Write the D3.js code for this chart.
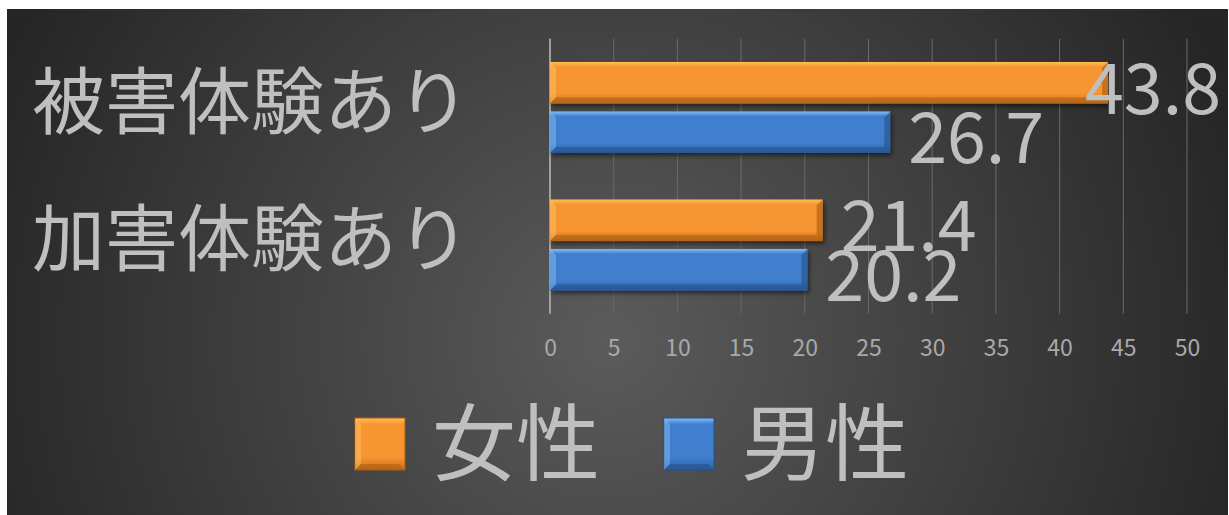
<!DOCTYPE html>
<html>
<head>
<meta charset="utf-8">
<script src="https://cdn.jsdelivr.net/npm/d3@7"></script>
<style>
  html, body { margin: 0; padding: 0; background: #fff; }
  svg { display: block; }
  text { font-family: "Noto Sans CJK JP", "Noto Sans", sans-serif; }
</style>
</head>
<body>
<div id="chart"></div>
<script>
// data
var categories = ["被害体験あり", "加害体験あり"];
var series = ["女性", "男性"];
var femaleValues = [43.8, 21.4];
var maleValues = [26.7, 20.2];
var tickValues = [0, 5, 10, 15, 20, 25, 30, 35, 40, 45, 50];

var W = 1229, H = 515;
var plot = {left: 550, right: 1187, top: 38.75, bottom: 313.75};

var svg = d3.select("#chart").append("svg")
    .attr("width", W)
    .attr("height", H);

var defs = svg.append("defs");

// background radial gradient
var bg = defs.append("radialGradient")
    .attr("id", "bg")
    .attr("gradientUnits", "userSpaceOnUse")
    .attr("cx", 610).attr("cy", 340).attr("r", 660);
bg.append("stop").attr("offset", "0%").attr("stop-color", "#5b5b5b");
bg.append("stop").attr("offset", "100%").attr("stop-color", "#262626");

// bar gradients
var colors = {
  "女性": {top: "#ffbf55", mid: "#f79530", bot: "#c8701c", light: "#ffc66a", dark: "#a95c12"},
  "男性": {top: "#86bdf3", mid: "#3f7fcd", bot: "#2f62a5", light: "#8cc0f4", dark: "#24508a"}
};
series.forEach(function(s, i) {
  var g = defs.append("linearGradient")
      .attr("id", "bar" + i)
      .attr("x1", 0).attr("y1", 0).attr("x2", 0).attr("y2", 1);
  g.append("stop").attr("offset", "0%").attr("stop-color", colors[s].top);
  g.append("stop").attr("offset", "12%").attr("stop-color", colors[s].mid);
  g.append("stop").attr("offset", "75%").attr("stop-color", colors[s].mid);
  g.append("stop").attr("offset", "100%").attr("stop-color", colors[s].bot);
});

var shadow = defs.append("filter").attr("id", "shadow")
    .attr("x", "-10%").attr("y", "-20%").attr("width", "130%").attr("height", "160%");
shadow.append("feDropShadow")
    .attr("dx", 2).attr("dy", 3).attr("stdDeviation", 2)
    .attr("flood-color", "#000").attr("flood-opacity", 0.5);

svg.append("rect")
    .attr("x", 7).attr("y", 9)
    .attr("width", W - 8).attr("height", H - 9)
    .attr("fill", "url(#bg)");

// scales
var x = d3.scaleLinear().domain([0, 50]).range([plot.left, plot.right]);
var y0 = d3.scaleBand().domain(categories)
    .range([plot.top, plot.bottom])
    .paddingInner(0.338).paddingOuter(0.169);
var y1 = d3.scaleBand().domain(series)
    .range([0, y0.bandwidth()])
    .paddingInner(0.16);

// gridlines
svg.append("g")
  .selectAll("line")
  .data(tickValues.slice(1))
  .enter().append("line")
    .attr("x1", function(d) { return x(d); })
    .attr("x2", function(d) { return x(d); })
    .attr("y1", plot.top)
    .attr("y2", plot.bottom)
    .attr("stroke", "#6a6a6a")
    .attr("stroke-width", 1);

// x axis
var xAxis = d3.axisBottom(x)
    .tickValues(tickValues)
    .tickSize(0)
    .tickPadding(26);
var gx = svg.append("g")
    .attr("transform", "translate(0," + plot.bottom + ")")
    .call(xAxis);
gx.select(".domain").remove();
gx.selectAll("text")
    .attr("fill", "#a9a9a9")
    .style("font-size", "23px")
    .style("font-family", "'Noto Sans CJK JP', sans-serif");

// value axis line
svg.append("line")
    .attr("x1", x(0)).attr("x2", x(0))
    .attr("y1", plot.top).attr("y2", plot.bottom)
    .attr("stroke", "#a0a0a0")
    .attr("stroke-width", 2);

// category labels
svg.append("g")
  .selectAll("text")
  .data(categories)
  .enter().append("text")
    .attr("x", 470)
    .attr("y", function(d) { return y0(d) + y0.bandwidth() / 2 - 6; })
    .attr("dy", "0.36em")
    .attr("text-anchor", "end")
    .attr("fill", "#bfbfbf")
    .style("font-size", "73px")
    .text(function(d) { return d; });

// bars
var rows = [];
categories.forEach(function(c, i) {
  rows.push({cat: c, s: "女性", si: 0, v: femaleValues[i]});
  rows.push({cat: c, s: "男性", si: 1, v: maleValues[i]});
});

var bev = 6;
var bar = svg.append("g").selectAll("g.bar")
  .data(rows)
  .enter().append("g")
    .attr("class", "bar")
    .attr("transform", function(d) {
      return "translate(" + x(0) + "," + (y0(d.cat) + y1(d.s)) + ")";
    });

bar.append("rect")
    .attr("width", function(d) { return x(d.v) - x(0); })
    .attr("height", y1.bandwidth())
    .attr("fill", function(d) { return "url(#bar" + d.si + ")"; })
    .attr("filter", "url(#shadow)");

// bevel edges
bar.append("polygon")
    .attr("points", function(d) {
      var h = y1.bandwidth();
      return [[0, 0], [bev, bev], [bev, h - bev], [0, h]].join(" ");
    })
    .attr("fill", function(d) { return colors[d.s].light; })
    .attr("opacity", 0.45);
bar.append("polygon")
    .attr("points", function(d) {
      var w = x(d.v) - x(0), h = y1.bandwidth();
      return [[w, 0], [w, h], [w - bev, h - bev], [w - bev, bev]].join(" ");
    })
    .attr("fill", function(d) { return colors[d.s].dark; })
    .attr("opacity", 0.6);
bar.append("polygon")
    .attr("points", function(d) {
      var w = x(d.v) - x(0), h = y1.bandwidth();
      return [[0, h], [bev, h - bev], [w - bev, h - bev], [w, h]].join(" ");
    })
    .attr("fill", function(d) { return colors[d.s].dark; })
    .attr("opacity", 0.55);

// value labels
var labelSize = 70;
svg.append("g")
  .selectAll("text")
  .data(rows)
  .enter().append("text")
    .attr("y", function(d) { return y0(d.cat) + y1(d.s) + y1.bandwidth() / 2 + 6; })
    .attr("dy", "0.36em")
    .attr("fill", "#bfbfbf")
    .style("font-size", labelSize + "px")
    .text(function(d) { return d.v.toFixed(1); })
    .attr("x", function(d) {
      var w = this.getComputedTextLength();
      return Math.min(x(d.v) + 18, 1221 - w);
    });

// legend
var legendX = [355, 664];
var lg = svg.append("g").selectAll("g")
  .data(series)
  .enter().append("g")
    .attr("transform", function(d, i) { return "translate(" + legendX[i] + ",418)"; });
lg.append("rect")
    .attr("width", 50).attr("height", 52)
    .attr("fill", function(d, i) { return "url(#bar" + i + ")"; })
    .attr("stroke", function(d) { return colors[d].dark; })
    .attr("stroke-width", 1);
lg.append("polygon")
    .attr("points", [[0, 0], [bev, bev], [bev, 52 - bev], [0, 52]].join(" "))
    .attr("fill", function(d) { return colors[d].light; })
    .attr("opacity", 0.45);
lg.append("polygon")
    .attr("points", [[0, 52], [bev, 52 - bev], [50 - bev, 52 - bev], [50, 52]].join(" "))
    .attr("fill", function(d) { return colors[d].dark; })
    .attr("opacity", 0.55);
lg.append("text")
    .attr("x", 77)
    .attr("y", 26)
    .attr("dy", "0.36em")
    .attr("fill", "#bfbfbf")
    .style("font-size", "84px")
    .text(function(d) { return d; });
</script>
</body>
</html>
